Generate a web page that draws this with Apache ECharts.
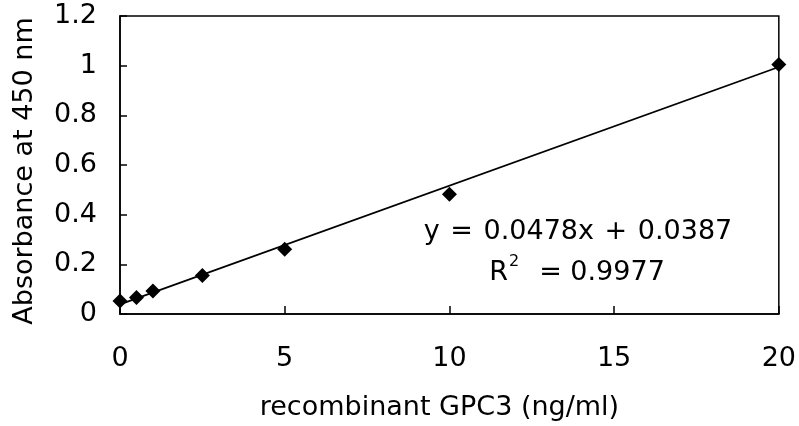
<!DOCTYPE html>
<html>
<head>
<meta charset="utf-8">
<script src="https://cdn.jsdelivr.net/npm/echarts@6/dist/echarts.min.js"></script>
<style>html,body{margin:0;padding:0;background:#fff}#c{width:799px;height:426px}</style>
</head>
<body>
<div id="c"></div>
<script>
const concentrations = [0, 0.5, 1, 2.5, 5, 10, 20];
const absorbance = [0.052, 0.066, 0.093, 0.155, 0.261, 0.482, 1.005];
const trendX = [0, 20];
const trendY = [0.0387, 0.9947];
const yTicks = [0, 0.2, 0.4, 0.6, 0.8, 1, 1.2];
const xTicks = [0, 5, 10, 15, 20];
const equationParts = ['y ', '=', ' 0.0478x ', '+', ' 0.0387'];
const r2Parts = ['R', '2', '=', ' 0.9977'];

const FONT = 'DejaVu Sans';
const FS = 27;
const chart = echarts.init(document.getElementById('c'), null, {renderer: 'canvas'});
chart.setOption({
  animation: false,
  backgroundColor: '#fff',
  grid: {left: 120, right: 18, top: 16, bottom: 108, show: true, borderColor: '#000', borderWidth: 1.5, containLabel: false},
  xAxis: {
    type: 'value', min: xTicks[0], max: xTicks[xTicks.length - 1], interval: 5,
    name: 'recombinant GPC3 (ng/ml)', nameLocation: 'middle', nameGap: 80,
    nameTextStyle: {fontFamily: FONT, fontSize: FS, color: '#000', padding: [0, 20, 0, 0]},
    axisLine: {lineStyle: {color: '#000', width: 1.5}},
    axisTick: {inside: true, length: 8, lineStyle: {color: '#000', width: 1.5}},
    axisLabel: {fontFamily: FONT, fontSize: FS, color: '#000', margin: 31},
    splitLine: {show: false}
  },
  yAxis: {
    type: 'value', min: yTicks[0], max: yTicks[yTicks.length - 1], interval: 0.2,
    name: 'Absorbance at 450 nm', nameLocation: 'middle', nameGap: 82,
    nameTextStyle: {fontFamily: FONT, fontSize: FS, color: '#000', padding: [0, 12, 0, 0]},
    axisLine: {lineStyle: {color: '#000', width: 1.5}},
    axisTick: {inside: true, length: 7, lineStyle: {color: '#000', width: 1.5}},
    axisLabel: {fontFamily: FONT, fontSize: FS, color: '#000', margin: 23},
    splitLine: {show: false}
  },
  series: [
    {
      type: 'line', data: trendX.map((x, i) => [x, trendY[i]]),
      showSymbol: false, symbol: 'none', lineStyle: {color: '#000', width: 1.8}, z: 2
    },
    {
      type: 'scatter', data: concentrations.map((x, i) => [x, absorbance[i]]),
      symbol: 'diamond', symbolSize: 15, itemStyle: {color: '#000', opacity: 1}, z: 3
    }
  ],
  graphic: [
    {type: 'text', x: 578, y: 232, style: {
      text: '{a|' + equationParts[0] + '}{p|' + equationParts[1] + '}{a|' + equationParts[2] + '}{p|' + equationParts[3] + '}{a|' + equationParts[4] + '}',
      align: 'center', verticalAlign: 'middle',
      rich: {
        a: {fontFamily: FONT, fontSize: FS, fill: '#000', color: '#000'},
        p: {fontFamily: FONT, fontSize: FS, fill: '#000', color: '#000', padding: [0, 2, 0, 2]}
      }
    }},
    {type: 'text', x: 577, y: 270, style: {
      text: '{a|' + r2Parts[0] + '}{s|' + r2Parts[1] + '}{p|' + r2Parts[2] + '}{a|' + r2Parts[3] + '}',
      align: 'center', verticalAlign: 'middle',
      rich: {
        a: {fontFamily: FONT, fontSize: FS, lineHeight: 33, fill: '#000', color: '#000', verticalAlign: 'bottom'},
        p: {fontFamily: FONT, fontSize: FS, lineHeight: 33, fill: '#000', color: '#000', verticalAlign: 'bottom', padding: [0, 0, 0, 20]},
        s: {fontFamily: FONT, fontSize: 16, lineHeight: 16, fill: '#000', color: '#000', verticalAlign: 'top', padding: [0, 0, 0, 1]}
      }
    }}
  ]
});
</script>
</body>
</html>
